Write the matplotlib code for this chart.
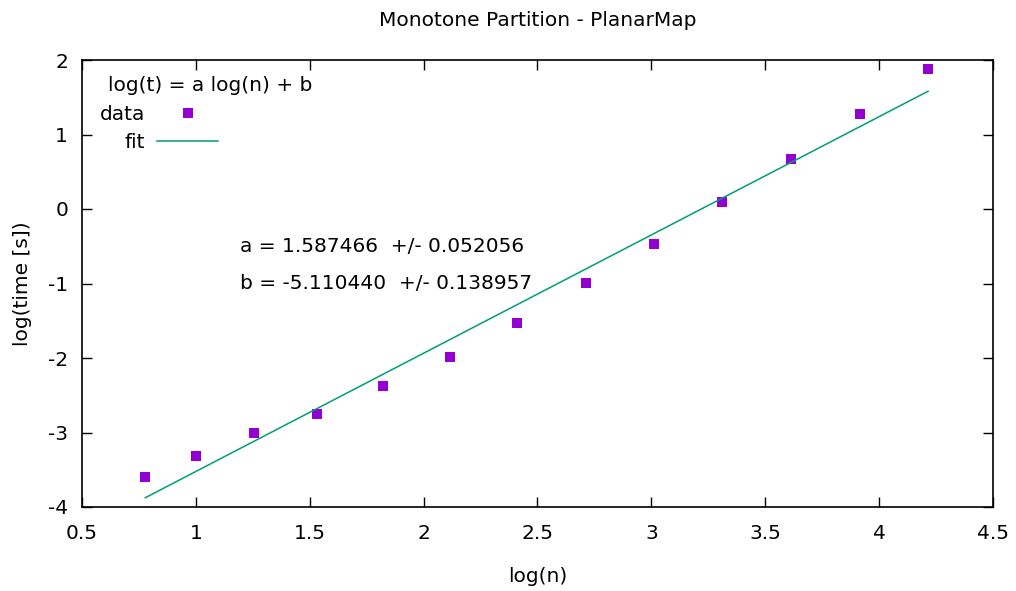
import numpy as np
import matplotlib
matplotlib.use("Agg")
import matplotlib.pyplot as plt
from matplotlib.lines import Line2D

# measured points: log10(n) vs log10(time)
log_n = [0.778, 1.000, 1.255, 1.531, 1.820, 2.114, 2.412, 2.711, 3.011, 3.312, 3.613, 3.914, 4.215]
log_t = [-3.60, -3.31, -3.01, -2.75, -2.38, -1.99, -1.53, -0.99, -0.47, 0.09, 0.67, 1.27, 1.875]

# fit parameters
a, a_err = 1.587466, 0.052056
b, b_err = -5.110440, 0.138957

xticks = [0.5, 1, 1.5, 2, 2.5, 3, 3.5, 4, 4.5]
xticklabels = ['0.5', '1', '1.5', '2', '2.5', '3', '3.5', '4', '4.5']
yticks = [-4, -3, -2, -1, 0, 1, 2]

purple = '#9400d3'
green = '#009e73'
fs = 14.5

plt.rcParams['font.family'] = 'DejaVu Sans'
plt.rcParams['axes.unicode_minus'] = False
fig = plt.figure(figsize=(10.16, 5.91), dpi=100)
ax = fig.add_axes([82 / 1016, 1 - 507 / 591, 911 / 1016, 447 / 591])

ax.plot(log_n, log_t, 's', color=purple, markersize=7.8, markeredgewidth=0)
xf = np.array([log_n[0], log_n[-1]])
ax.plot(xf, a * xf + b, '-', color=green, linewidth=1.1)

ax.set_xlim(0.5, 4.5)
ax.set_ylim(-4, 2)
ax.set_xticks(xticks)
ax.set_xticklabels(xticklabels)
ax.set_yticks(yticks)
ax.tick_params(direction='in', length=7, width=1, top=True, right=True, labelsize=fs)
ax.tick_params(axis='x', pad=12)
ax.tick_params(axis='y', pad=10)
for s in ax.spines.values():
    s.set_linewidth(1.2)

fig.text(537.5 / 1016, 1 - 20 / 591, 'Monotone Partition - PlanarMap',
         fontsize=fs, ha='center', va='center')
ax.set_xlabel('log(n)', fontsize=fs)
ax.xaxis.set_label_coords(0.5, (507 - 577) / 447)
ax.xaxis.label.set_va('center')
ax.set_ylabel('log(time [s])', fontsize=fs)
ax.yaxis.set_label_coords((22 - 82) / 911, 0.5)
ax.yaxis.label.set_va('center')

# key
ax.text(0.0285, 0.942, 'log(t) = a log(n) + b', transform=ax.transAxes,
        fontsize=fs, va='center', ha='left')
handles = [Line2D([], [], marker='s', linestyle='none', color=purple,
                  markersize=7.8, markeredgewidth=0),
           Line2D([], [], color=green, linewidth=1.1)]
ax.legend(handles, ['data', 'fit'], loc='upper left', bbox_to_anchor=(0.0198, 0.899),
          markerfirst=False, frameon=False, fontsize=fs, handlelength=3.0,
          handletextpad=0.6, labelspacing=0.45, borderpad=0, borderaxespad=0)

# fit results
ax.text(0.1734, 0.582, f'a = {a:.6f}  +/- {a_err:.6f}', transform=ax.transAxes,
        fontsize=fs, va='center')
ax.text(0.1734, 0.501, f'b = {b:.6f}  +/- {b_err:.6f}', transform=ax.transAxes,
        fontsize=fs, va='center')

fig.savefig('out.png', dpi=100)
